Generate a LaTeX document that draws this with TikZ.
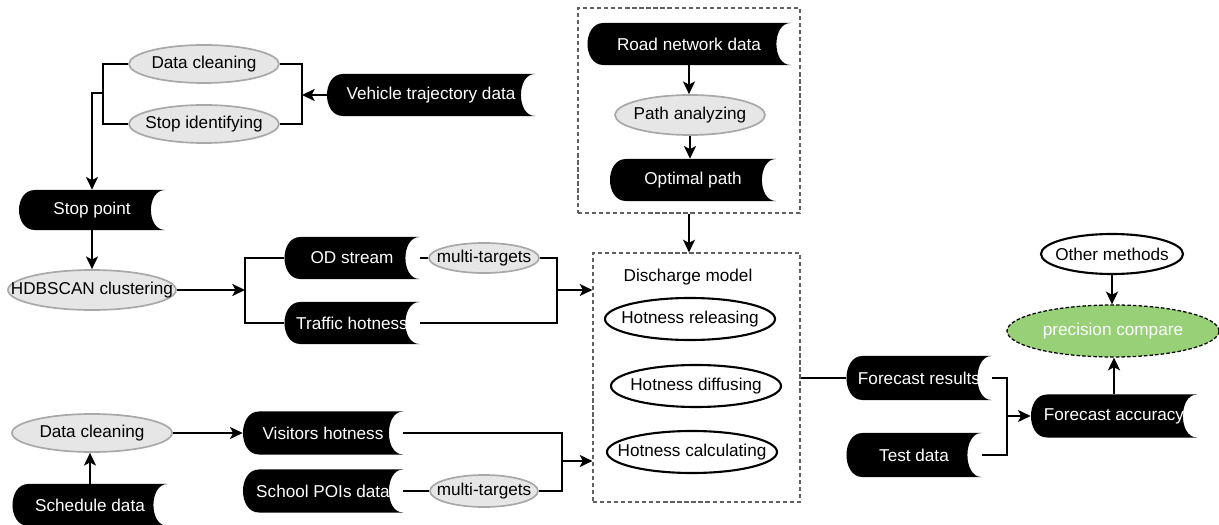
\documentclass[tikz,border=0pt]{standalone}
\usepackage{fontspec}
\setmainfont{Liberation Sans}
\usepackage{tikz}
\usetikzlibrary{arrows.meta,calc,positioning,shapes.geometric}

\definecolor{procgray}{HTML}{E6E6E6}
\definecolor{procline}{HTML}{A8A8A8}
\definecolor{cmpgreen}{HTML}{97D077}
\definecolor{boxline}{HTML}{606060}

\newcommand{\ctr}[1]{\makebox[0pt]{#1}}

\begin{document}
\begin{tikzpicture}[
x=0.025cm, y=-0.025cm,
font=\fontsize{12.2}{14}\selectfont,
line/.style={line width=1.6pt},
arr/.style={line width=1.6pt, -{Stealth[length=9pt,width=8.5pt,inset=2.2pt]}},
datanode/.style={inner sep=0pt, text=white, minimum height=1.05cm,
  path picture={
    \fill[black] let \p1=(path picture bounding box.north west),
                     \p2=(path picture bounding box.south east) in
      (\x1+0.4cm,\y1) -- (\x2,\y1)
      .. controls (\x2-0.47cm,\y1) and (\x2-0.47cm,\y2) .. (\x2,\y2)
      -- (\x1+0.4cm,\y2)
      .. controls (\x1-0.133cm,\y2) and (\x1-0.133cm,\y1) .. (\x1+0.4cm,\y1) -- cycle;
  }},
procnode/.style={ellipse, inner sep=0pt, fill=procgray, draw=procline, line width=1.2pt},
opnode/.style={ellipse, inner sep=0pt, fill=white, draw=black, line width=1.5pt},
groupbox/.style={draw=boxline, line width=0.8pt, dash pattern=on 3pt off 2pt, inner sep=0pt},
]
\useasboundingbox (0,0) rectangle (1219,525);

% vehicle trajectories
\node[procnode, minimum width=3.75cm, minimum height=0.95cm] (clean1) at (204,64) {\ctr{Data cleaning}};
\node[procnode, minimum width=3.75cm, minimum height=0.95cm] (stopid) at (204,124) {\ctr{Stop identifying}};
\node[datanode, minimum width=5.2cm] (vehicle) at (431,95) {Vehicle trajectory data};
\node[datanode, minimum width=3.65cm, minimum height=1.0cm] (stoppt) at (92,210) {Stop point};
\node[procnode, minimum width=4.2cm, minimum height=1.0cm] (hdbscan) at (92,290) {\ctr{HDBSCAN clustering}};
\node[datanode, minimum width=3.375cm] (odstream) at (352,258) {OD stream};
\node[procnode, minimum width=2.75cm, minimum height=0.75cm] (multi1) at (484,258) {\ctr{multi-targets}};
\node[datanode, minimum width=3.375cm] (traffic) at (352,323) {Traffic hotness};

% road network
\node[groupbox, minimum width=5.55cm, minimum height=5.125cm] (roadbox) at (689,110.5) {};
\node[datanode, minimum width=5.075cm] (roadnet) at (689,44) {Road network data};
\node[procnode, minimum width=3.75cm, minimum height=1.0cm] (pathana) at (690,115) {\ctr{Path analyzing}};
\node[datanode, minimum width=4.15cm] (optpath) at (693,180) {Optimal path};

% discharge model
\node[groupbox, minimum width=5.175cm, minimum height=6.225cm] (discharge) at (696.5,377.5) {};
\node (dlabel) at (688,277) {Discharge model};
\node[opnode, minimum width=4.25cm, minimum height=1.05cm] (release) at (690,319) {\ctr{Hotness releasing}};
\node[opnode, minimum width=4.25cm, minimum height=1.05cm] (diffuse) at (696,386) {\ctr{Hotness diffusing}};
\node[opnode, minimum width=4.25cm, minimum height=1.05cm] (calc) at (692,452) {\ctr{Hotness calculating}};

% schedule and POIs
\node[procnode, minimum width=4.0cm, minimum height=0.95cm] (clean2) at (92,433) {\ctr{Data cleaning}};
\node[datanode, minimum width=3.875cm] (schedule) at (90,505) {Schedule data};
\node[datanode, minimum width=4.0cm, minimum height=1.075cm] (visitors) at (323,433) {Visitors hotness};
\node[datanode, minimum width=4.0cm, minimum height=1.075cm] (school) at (323,491) {School POIs data};
\node[procnode, minimum width=2.7cm, minimum height=0.8cm] (multi2) at (484,491) {\ctr{multi-targets}};

% evaluation
\node[datanode, minimum width=3.625cm, minimum height=1.1cm] (fcresult) at (919,378) {Forecast results};
\node[datanode, minimum width=3.375cm, minimum height=1.1cm] (testdata) at (914,455) {Test data};
\node[datanode, minimum width=4.15cm, minimum height=1.075cm] (fcacc) at (1114,416) {Forecast accuracy};
\node[opnode, minimum width=3.55cm, minimum height=1.0cm] (othermeth) at (1112,254) {\ctr{Other methods}};
\node[ellipse, inner sep=0pt, fill=cmpgreen, draw=black, line width=0.9pt, dash pattern=on 2.5pt off 1.5pt,
      text=white, minimum width=5.3cm, minimum height=1.3cm] (compare) at (1113,331) {\ctr{precision compare}};

\coordinate (jvehicle) at (302,95);
\coordinate (jstop) at (103,93);
\coordinate (jod) at (245,290);
\coordinate (jtraffic) at (557,290);
\coordinate (jschool) at (562,461);
\coordinate (jfc) at (1007,416);

\draw[line] (clean1.east) -| (jvehicle) |- (stopid.east);
\draw[arr] (vehicle.west) -- (jvehicle);
\draw[line] (clean1.west) -| (jstop) |- (stopid.west);
\draw[arr] (jstop) -| (stoppt.north);
\draw[arr] (stoppt.south) -- (hdbscan.north);
\draw[arr] (hdbscan.east) -- (jod);
\draw[line] (odstream.west) -| (jod) |- (traffic.west);
\draw[line] (odstream.east) -- (multi1.west);
\draw[line] (multi1.east) -| (jtraffic) |- (traffic.east);
\draw[arr] (jtraffic) -- (jtraffic -| discharge.west);

\draw[arr] (roadnet.south) -- (roadnet.south |- pathana.north);
\draw[arr] (pathana.south) -- (pathana.south |- optpath.north);
\draw[arr] (roadbox.south) -- (roadbox.south |- discharge.north);

\draw[arr] (schedule.north) -- (schedule.north |- clean2.south);
\draw[arr] (clean2.east) -- (visitors.west);
\draw[line] (school.east) -- (multi2.west);
\draw[line] (visitors.east) -| (jschool) |- (multi2.east);
\draw[arr] (jschool) -- (jschool -| discharge.west);

\draw[line] (discharge.east |- fcresult) -- (fcresult.west);
\draw[line] (fcresult.east) -| (jfc) |- (testdata.east);
\draw[arr] (jfc) -- (fcacc.west);
\draw[arr] (fcacc.north) -- (fcacc.north |- compare.south);
\draw[arr] (othermeth.south) -- (othermeth.south |- compare.north);

\end{tikzpicture}
\end{document}
